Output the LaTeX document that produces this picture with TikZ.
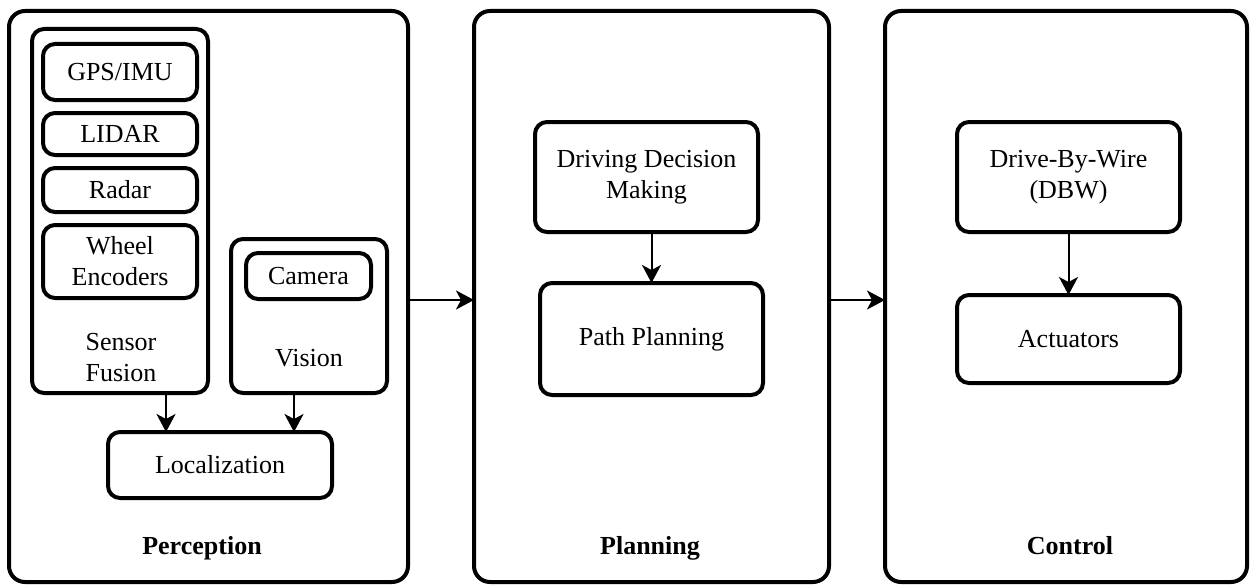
\documentclass[tikz,border=0pt]{standalone}
\usepackage{fontspec}
\setmainfont{Liberation Serif}
\usetikzlibrary{arrows.meta,calc}
\begin{document}
\begin{tikzpicture}[x=1pt,y=-1pt,
  every node/.style={font=\fontsize{26}{31}\selectfont, inner sep=0pt, outer sep=0pt},
  panel/.style={draw, line width=4pt, rounded corners=16pt, minimum width=#1, minimum height=571pt},
  blk/.style={draw, line width=4pt, rounded corners=12pt, align=center},
  lbl/.style={align=center},
  ttl/.style={font=\fontsize{26}{30}\selectfont\bfseries, anchor=base},
  arr/.style={line width=2pt, -{Stealth[length=18pt,width=19pt,inset=5pt]}}]
\useasboundingbox (0,0) rectangle (1250,586);
% panels
\node[panel=399pt] (perc) at (208.5,296.5) {};
\node[panel=355pt] (plan) at (651.5,296.5) {};
\node[panel=362pt] (ctrl) at (1066,296.5) {};
% perception
\node[blk, minimum width=176pt, minimum height=364pt] (sf) at (120,211) {};
\node[blk, minimum width=154pt, minimum height=56pt] (gps) at (120,72) {GPS/IMU};
\node[blk, minimum width=154pt, minimum height=42pt] (lidar) at (120,134) {LIDAR};
\node[blk, minimum width=154pt, minimum height=44pt] (radar) at (120,190) {Radar};
\node[blk, minimum width=154pt, minimum height=73pt] (wheel) at (120,261.5) {Wheel\\Encoders};
\node[lbl] (sflbl) at (121,358) {Sensor\\Fusion};
\node[blk, minimum width=156pt, minimum height=154pt] (vis) at (309,316) {};
\node[blk, minimum width=125pt, minimum height=46pt] (cam) at (308.5,276) {Camera};
\node[lbl] (vislbl) at (309,358) {Vision};
\node[blk, minimum width=224pt, minimum height=66pt] (loc) at (220,465) {Localization};
\node[ttl] (perclbl) at (202,554) {Perception};
\coordinate (sfout) at ($(sf.south)+(46,0)$);
\coordinate (visout) at ($(vis.south)+(-15,0)$);
\draw[arr] (sfout) -- (sfout |- loc.north);
\draw[arr] (visout) -- (visout |- loc.north);
% planning
\node[blk, minimum width=223pt, minimum height=110pt] (ddm) at (646.5,177) {Driving Decision\\Making};
\node[blk, minimum width=223pt, minimum height=112pt] (pp) at (651.5,339) {Path Planning};
\node[ttl] (planlbl) at (650,554) {Planning};
\draw[arr] (ddm.south -| pp.north) -- (pp.north);
% control
\node[blk, minimum width=223pt, minimum height=110pt] (dbw) at (1068.5,177) {Drive-By-Wire\\(DBW)};
\node[blk, minimum width=223pt, minimum height=88pt] (act) at (1068.5,339) {Actuators};
\node[ttl] (ctrllbl) at (1070,554) {Control};
\draw[arr] (dbw.south) -- (act.north);
% between panels
\coordinate (pout) at ($(perc.east)+(0,3.5)$);
\coordinate (plout) at ($(plan.east)+(0,3.5)$);
\draw[arr] (pout) -- (pout -| plan.west);
\draw[arr] (plout) -- (plout -| ctrl.west);
\end{tikzpicture}
\end{document}
